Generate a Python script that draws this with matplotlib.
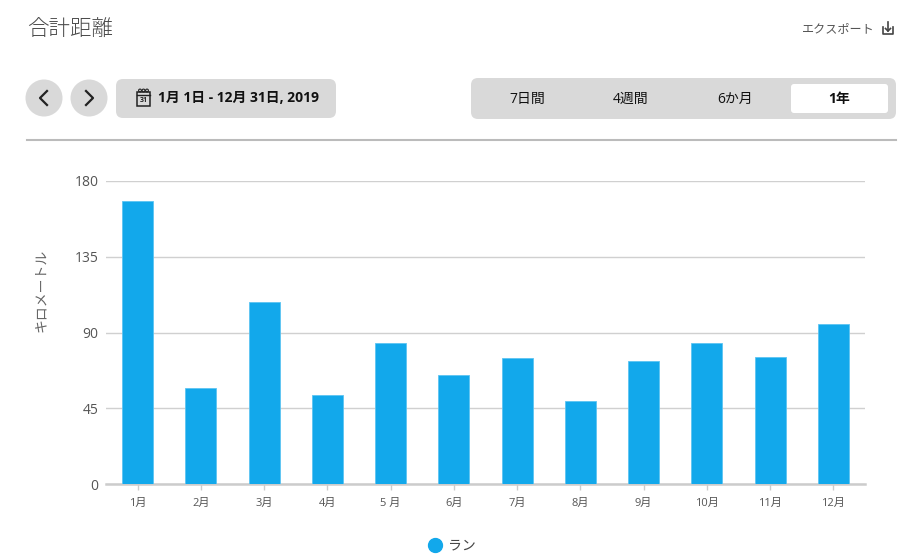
import matplotlib
matplotlib.use("Agg")
import matplotlib.pyplot as plt
from matplotlib.patches import FancyBboxPatch, Circle, Rectangle
from matplotlib.lines import Line2D

plt.rcParams['font.family'] = ['Open Sans', 'Noto Sans CJK JP', 'DejaVu Sans']

# data (km per month, 2019)
months = ['1月', '2月', '3月', '4月', '5 月', '6月', '7月', '8月', '9月', '10月', '11月', '12月']
run_km = [168.1, 56.9, 108.4, 52.7, 83.5, 64.6, 74.6, 49.2, 72.9, 83.6, 75.3, 94.9]
y_ticks = [0, 45, 90, 135, 180]
ranges = ['7日間', '4週間', '6か月', '1年']

bar_color = '#12a8eb'
W, H = 915, 560

fig = plt.figure(figsize=(W / 100, H / 100), dpi=100)

# overlay in pixel coords for the page furniture
ui = fig.add_axes([0, 0, 1, 1])
ui.set_xlim(0, W)
ui.set_ylim(H, 0)
ui.axis('off')

ui.text(27, 30, '合計距離', fontsize=15.5, color='#4a4a4a', va='center', ha='left',
        fontweight='light')
ui.text(875, 29, 'エクスポート', fontsize=8.7, color='#555555', va='center', ha='right')
# export icon
ui.plot([883, 883, 893, 893], [27, 34, 34, 27], color='#444444', lw=1.2)
ui.plot([888, 888], [22, 31], color='#444444', lw=1.2)
ui.plot([885.5, 888, 890.5], [28.5, 31, 28.5], color='#444444', lw=1.2)

# prev / next buttons
for cx, ch in [(44, '<'), (89, '>')]:
    ui.add_patch(Circle((cx, 98), 18.5, color='#d9d9d9', lw=0))
    ui.plot([cx + 3 if ch == '<' else cx - 3, cx - 4 if ch == '<' else cx + 4,
             cx + 3 if ch == '<' else cx - 3], [91, 98, 105], color='#222222', lw=1.6)

# date range button
ui.add_patch(FancyBboxPatch((116, 79), 220, 39, boxstyle='round,pad=0,rounding_size=7',
                            fc='#d9d9d9', ec='none'))
ui.add_patch(Rectangle((137, 92), 13, 14, fc='none', ec='#222222', lw=1.1))
ui.plot([137, 150], [95, 95], color='#222222', lw=1)
for px in [140, 143.5, 147]:
    ui.add_patch(Circle((px, 90.5), 1.4, fc='none', ec='#222222', lw=0.8))
ui.text(143.5, 101, '31', fontsize=5, color='#222222', ha='center', va='center',
        fontweight='bold')
ui.text(158, 98.5, '1月 1日 - 12月 31日, 2019', fontsize=10, fontweight='bold',
        color='#111111', va='center', ha='left')

# range selector
ui.add_patch(FancyBboxPatch((471, 78), 425, 41, boxstyle='round,pad=0,rounding_size=7',
                            fc='#d9d9d9', ec='none'))
ui.add_patch(FancyBboxPatch((791, 84), 97, 29, boxstyle='round,pad=0,rounding_size=3',
                            fc='white', ec='none'))
for lbl, cx in zip(ranges, [527, 631, 735, 839]):
    ui.text(cx, 99, lbl, fontsize=10, color='#111111', ha='center', va='center',
            fontweight='bold' if lbl == '1年' else 'normal')

ui.plot([27, 896], [140, 140], color='#bbbbbb', lw=1.5)

# chart
ax = fig.add_axes([106 / W, 1 - 484 / H, (865 - 106) / W, (484 - 181) / H])
ax.set_zorder(2)
ax.patch.set_alpha(0)
x = range(len(months))
ax.bar(x, run_km, width=0.49, color=bar_color, edgecolor='#5cc4f2', linewidth=0.6,
       zorder=3, label='ラン')
ax.set_xlim(-0.5, len(months) - 0.5)
ax.set_ylim(0, 180)
ax.set_yticks(y_ticks)
ax.set_yticklabels([str(v) for v in y_ticks])
ax.set_xticks(list(x))
ax.set_xticklabels(months)
ax.grid(axis='y', color='#d0d0d0', lw=1, zorder=0)
for s in ['top', 'right', 'left']:
    ax.spines[s].set_visible(False)
ax.spines['bottom'].set_color('#cccccc')
ax.spines['bottom'].set_linewidth(1.8)
ax.tick_params(axis='y', length=0, pad=5.5, labelsize=10, labelcolor='#555555')
ax.tick_params(axis='x', length=4, width=1, color='#cccccc', pad=6, labelsize=8,
               labelcolor='#555555')
ax.set_ylabel('キロメートル', fontsize=10, color='#666666', labelpad=0)
ax.yaxis.set_label_coords((49 - 106) / (865 - 106), 0.64)

handle = Line2D([], [], marker='o', ls='none', markersize=10, markerfacecolor=bar_color,
                markeredgecolor=bar_color)
fig.legend(handles=[handle], labels=['ラン'], loc='center', bbox_to_anchor=(452 / W, 1 - 546 / H),
           frameon=False, fontsize=10, labelcolor='#444444', handletextpad=0.4,
           handlelength=1.0)

fig.savefig('out.png', dpi=100)
